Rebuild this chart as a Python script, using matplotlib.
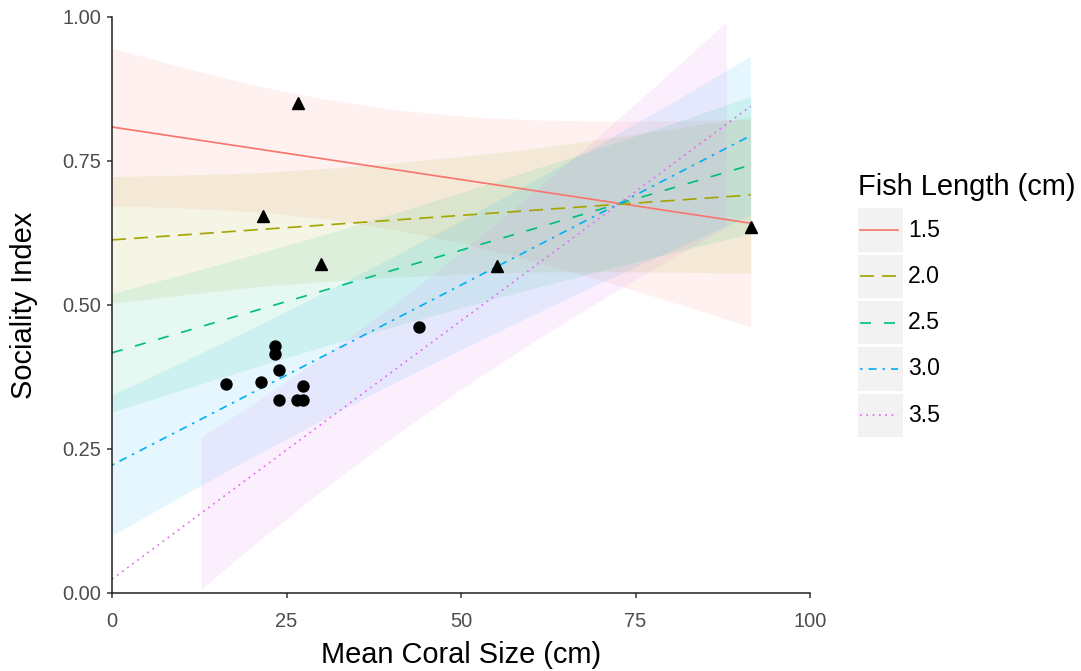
import numpy as np
import matplotlib
matplotlib.use("Agg")
import matplotlib.pyplot as plt
from matplotlib.patches import Rectangle
from matplotlib.lines import Line2D

plt.rcParams['font.family'] = ['Liberation Sans', 'DejaVu Sans']
plt.rcParams['lines.scale_dashes'] = False

W, H, DPI = 1081, 671, 100

# ---------------- data ----------------
fish_lengths = ["1.5", "2.0", "2.5", "3.0", "3.5"]
line_colors = ["#F8766D", "#A3A500", "#00BF7D", "#00B0F6", "#E76BF3"]

fit_x_range = [0.0, 91.5]
fit_start = [0.809, 0.613, 0.417, 0.222, 0.024]
fit_end = [0.642, 0.691, 0.743, 0.794, 0.845]

# half-width of the confidence band at these coral sizes
hw_x = [0, 10, 20, 30, 40, 50, 60, 70, 80, 91.5]
hw_15 = [0.137, 0.122, 0.110, 0.104, 0.104, 0.110, 0.122, 0.138, 0.157, 0.180]
hw_20 = [0.110, 0.104, 0.099, 0.098, 0.099, 0.102, 0.107, 0.115, 0.124, 0.136]
hw_25 = [0.103, 0.100, 0.098, 0.097, 0.098, 0.100, 0.103, 0.107, 0.112, 0.119]
hw_30 = [0.122, 0.116, 0.112, 0.110, 0.110, 0.112, 0.116, 0.121, 0.128, 0.138]
hw_35 = [0.152, 0.136, 0.123, 0.116, 0.114, 0.119, 0.129, 0.144, 0.162, 0.185]
half_widths = [hw_15, hw_20, hw_25, hw_30, hw_35]

circle_x = [16.4, 21.3, 23.3, 23.3, 23.9, 23.9, 26.5, 27.3, 27.3, 44.0]
circle_y = [0.363, 0.367, 0.429, 0.415, 0.387, 0.335, 0.335, 0.335, 0.359, 0.461]
tri_x = [21.7, 26.6, 29.9, 55.1, 91.6]
tri_y = [0.655, 0.850, 0.572, 0.568, 0.636]

x_ticks = [0, 25, 50, 75, 100]
x_ticklabels = ["0", "25", "50", "75", "100"]
y_ticks = [0.0, 0.25, 0.5, 0.75, 1.0]
y_ticklabels = ["0.00", "0.25", "0.50", "0.75", "1.00"]

# ---------------- styles ----------------
PX = 72.0 / DPI  # points per pixel
dash_styles = [
    '-',
    (0, (14 * PX, 8 * PX)),
    (0, (11 * PX, 13 * PX)),
    (0, (2.5 * PX, 6 * PX, 8 * PX, 6 * PX)),
    (0, (1.8 * PX, 4.5 * PX)),
]
LW = 1.7 * PX

def fx(px):
    return px / W

def fy(py):
    return 1 - py / H

AX_L, AX_R, AX_T, AX_B = 112, 810, 17, 593

fig = plt.figure(figsize=(W / DPI, H / DPI), dpi=DPI)
ax = fig.add_axes([fx(AX_L), fy(AX_B), (AX_R - AX_L) / W, (AX_B - AX_T) / H])
ax.set_xlim(0, 100)
ax.set_ylim(0, 1)

xg = np.linspace(fit_x_range[0], fit_x_range[1], 80)
for i in range(len(fish_lengths)):
    center = np.interp(xg, fit_x_range, [fit_start[i], fit_end[i]])
    hw = np.interp(xg, hw_x, half_widths[i])
    lo, hi = center - hw, center + hw
    ok = (lo >= 0) & (hi <= 1)
    ax.fill_between(xg, lo, hi, where=ok, color=line_colors[i], alpha=0.1,
                    linewidth=0, zorder=1)

for i in range(len(fish_lengths)):
    center = np.interp(xg, fit_x_range, [fit_start[i], fit_end[i]])
    ax.plot(xg, center, color=line_colors[i], linestyle=dash_styles[i],
            linewidth=LW, dash_capstyle='butt', zorder=2)

ax.plot(circle_x, circle_y, 'o', color='black', markersize=11 * PX, zorder=3)
ax.plot(tri_x, tri_y, '^', color='black', markersize=11.5 * PX, zorder=3)

for s in ['top', 'right']:
    ax.spines[s].set_visible(False)
for s in ['left', 'bottom']:
    ax.spines[s].set_color('#1a1a1a')
    ax.spines[s].set_linewidth(1.5 * PX)

ax.set_xticks(x_ticks)
ax.set_xticklabels(x_ticklabels)
ax.set_yticks(y_ticks)
ax.set_yticklabels(y_ticklabels)
ax.tick_params(axis='both', length=5 * PX, width=1.5 * PX, color='#333333',
               labelcolor='#4D4D4D', labelsize=20 * PX)
ax.tick_params(axis='x', pad=14 * PX)
ax.tick_params(axis='y', pad=6 * PX)

ax.set_xlabel("Mean Coral Size (cm)", fontsize=29 * PX, color='black',
              va='center')
ax.xaxis.set_label_coords(0.5, -(655 - AX_B) / (AX_B - AX_T))
ax.set_ylabel("Sociality Index", fontsize=29 * PX, color='black',
              va='center')
ax.yaxis.set_label_coords(-(AX_L - 24) / (AX_R - AX_L), 0.5)

# ---------------- legend ----------------
fig.text(fx(858), fy(187), "Fish Length (cm)", fontsize=29 * PX,
         ha='left', va='center', color='black')
key_top0, key_step, key_h, key_w, key_left = 208.3, 46.3, 43.5, 45.0, 857.5
for i, lab in enumerate(fish_lengths):
    top = key_top0 + key_step * i
    fig.add_artist(Rectangle((fx(key_left), fy(top + key_h)), key_w / W, key_h / H,
                             transform=fig.transFigure, facecolor='#F2F2F2',
                             edgecolor='none'))
    yc = fy(top + key_h / 2)
    fig.add_artist(Line2D([fx(key_left + 3), fx(key_left + key_w - 5)], [yc, yc],
                          transform=fig.transFigure, color=line_colors[i],
                          linestyle=dash_styles[i], linewidth=LW))
    fig.text(fx(908), yc, lab, fontsize=23 * PX, ha='left', va='center', color='black')

fig.savefig("out.png", dpi=DPI)
